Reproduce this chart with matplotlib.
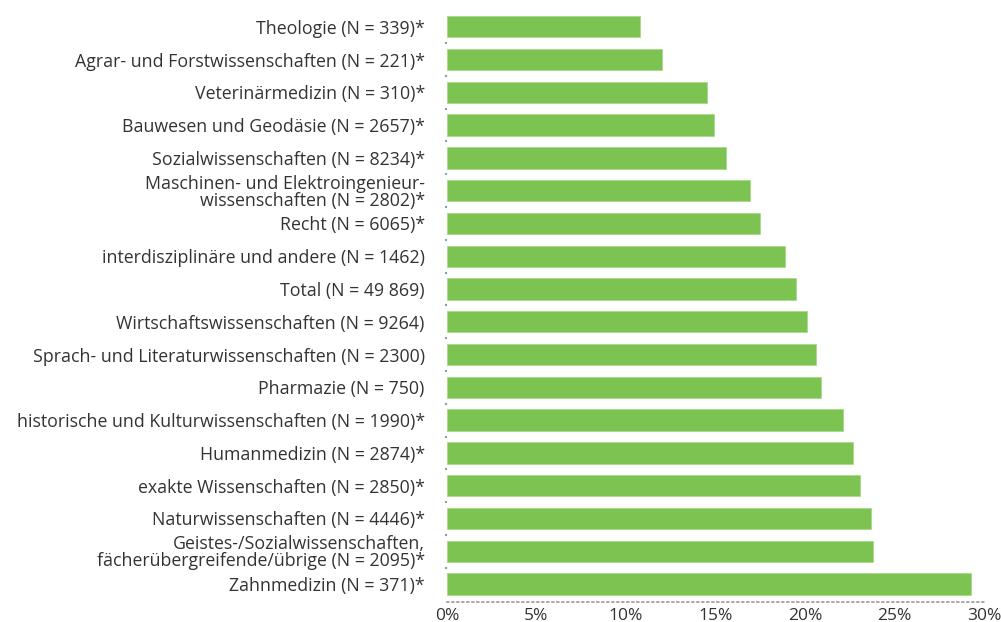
import matplotlib.pyplot as plt
import numpy as np

# %% data (top to bottom)
labels = [
    'Theologie (N = 339)*',
    'Agrar- und Forstwissenschaften (N = 221)*',
    'Veterinärmedizin (N = 310)*',
    'Bauwesen und Geodäsie (N = 2657)*',
    'Sozialwissenschaften (N = 8234)*',
    'Maschinen- und Elektroingenieur-\nwissenschaften (N = 2802)*',
    'Recht (N = 6065)*',
    'interdisziplinäre und andere (N = 1462)',
    'Total (N = 49 869)',
    'Wirtschaftswissenschaften (N = 9264)',
    'Sprach- und Literaturwissenschaften (N = 2300)',
    'Pharmazie (N = 750)',
    'historische und Kulturwissenschaften (N = 1990)*',
    'Humanmedizin (N = 2874)*',
    'exakte Wissenschaften (N = 2850)*',
    'Naturwissenschaften (N = 4446)*',
    'Geistes-/Sozialwissenschaften,\nfächerübergreifende/übrige (N = 2095)*',
    'Zahnmedizin (N = 371)*',
]
values = [10.8, 12.0, 14.5, 14.9, 15.6, 16.9, 17.5, 18.9, 19.5,
          20.1, 20.6, 20.9, 22.1, 22.7, 23.1, 23.7, 23.8, 29.3]
xticks = [0, 5, 10, 15, 20, 25, 30]

# %% plot
plt.rcParams['font.family'] = ['Open Sans', 'DejaVu Sans']
fig = plt.figure(figsize=(10.01, 6.22), dpi=100)
ax = fig.add_axes([0.4466, 0.032, 0.5364, 0.954])

y = np.arange(len(labels))
ax.barh(y, values, height=0.65, color='#7dc352', edgecolor='#a6d98a', linewidth=0.6, zorder=3)
ax.set_ylim(len(labels) - 0.45, -0.55)
ax.set_xlim(0, 30)

ax.set_yticks(y)
ax.set_yticklabels(labels, fontsize=12.8, color='#333333', linespacing=0.92)
ax.set_yticks(np.arange(len(labels) - 1) + 0.5, minor=True)
ax.set_xticks(xticks)
ax.set_xticklabels([f'{t}%' for t in xticks], fontsize=12.5, color='#333333')
ax.tick_params(axis='y', which='major', length=0, pad=16)
ax.tick_params(axis='y', which='minor', length=1.5, width=1.5, color='#999999')
ax.tick_params(axis='x', length=0, pad=4)

for s in ['top', 'right', 'left']:
    ax.spines[s].set_visible(False)
ax.spines['bottom'].set_linestyle((0, (1, 2)))
ax.spines['bottom'].set_color('#999999')
ax.spines['bottom'].set_linewidth(1.2)

plt.savefig('out.png', dpi=100)
